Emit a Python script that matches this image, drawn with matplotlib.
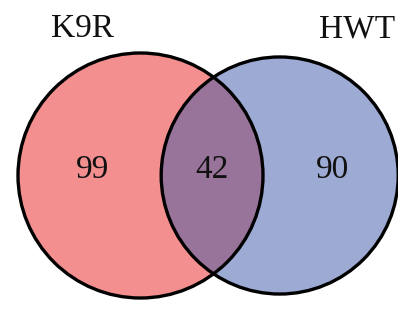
import numpy as np
import matplotlib.pyplot as plt
from matplotlib.patches import Circle

# ---------------------------- data ---------------------------- #
set_names = ['K9R', 'HWT']
only_counts = [99, 90]
shared_count = 42

fill_colors = ['#F48F8F', '#9DABD4']
overlap_color = '#98739A'


def lens_area(r1, r2, d):
    if d >= r1 + r2:
        return 0.0
    if d <= abs(r1 - r2):
        return np.pi * min(r1, r2) ** 2
    a1 = r1 ** 2 * np.arccos((d ** 2 + r1 ** 2 - r2 ** 2) / (2 * d * r1))
    a2 = r2 ** 2 * np.arccos((d ** 2 + r2 ** 2 - r1 ** 2) / (2 * d * r2))
    a3 = 0.5 * np.sqrt((-d + r1 + r2) * (d + r1 - r2) * (d - r1 + r2) * (d + r1 + r2))
    return a1 + a2 - a3


def solve_distance(r1, r2, target):
    lo, hi = abs(r1 - r2), r1 + r2
    for _ in range(100):
        mid = (lo + hi) / 2
        if lens_area(r1, r2, mid) > target:
            lo = mid
        else:
            hi = mid
    return (lo + hi) / 2


# area-proportional layout (pixel units)
totals = [only_counts[0] + shared_count, only_counts[1] + shared_count]
r1 = 122.5
r2 = r1 * np.sqrt(totals[1] / totals[0])
unit = np.pi * r1 ** 2 / totals[0]
d = solve_distance(r1, r2, shared_count * unit)
cx1, cy = 140.5, 175.5
cx2 = cx1 + d

fig = plt.figure(figsize=(3.98, 3.11), dpi=100)
ax = fig.add_axes([0, 0, 1, 1])
ax.set_xlim(0, 398)
ax.set_ylim(311, 0)
ax.set_aspect('equal')
ax.axis('off')

c1 = Circle((cx1, cy), r1, facecolor=fill_colors[0], edgecolor='none', zorder=1)
c2 = Circle((cx2, cy), r2, facecolor=fill_colors[1], edgecolor='none', zorder=1)
ax.add_patch(c1)
ax.add_patch(c2)
# intersection
clip = Circle((cx2, cy), r2, transform=ax.transData, visible=False)
ax.add_patch(clip)
inter = Circle((cx1, cy), r1, facecolor=overlap_color, edgecolor='none', zorder=2)
ax.add_patch(inter)
inter.set_clip_path(clip)

for cx, r in [(cx1, r1), (cx2, r2)]:
    ax.add_patch(Circle((cx, cy), r, facecolor='none', edgecolor='black', lw=2.4, zorder=3))

font = dict(family='Liberation Serif', fontsize=24, color='#111111')
left_lens = cx2 - r2
right_lens = cx1 + r1
ax.text(((cx1 - r1) + left_lens) / 2 + 3, 170, str(only_counts[0]), ha='center', va='center', **font)
ax.text((left_lens + right_lens) / 2, 170, str(shared_count), ha='center', va='center', **font)
ax.text((right_lens + cx2 + r2) / 2 + 2, 170, str(only_counts[1]), ha='center', va='center', **font)

ax.text(83, 29, set_names[0], ha='center', va='center', **font)
ax.text(357, 29, set_names[1], ha='center', va='center', **font)

fig.savefig('out.png', dpi=100)
